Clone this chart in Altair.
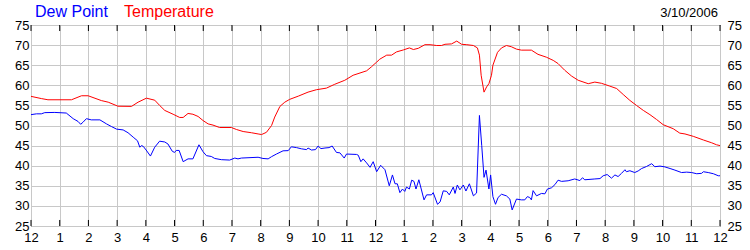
import altair as alt
import pandas as pd

series_names = ["Dew Point", "Temperature"]
date_label = "3/10/2006"

temp_hours = [0.00, 0.36, 0.59, 1.41, 1.76, 1.99, 2.45, 2.69, 3.03, 3.50, 3.73, 4.02, 4.31, 4.48, 4.66,
              4.95, 5.18, 5.30, 5.47, 5.64, 5.82, 5.99, 6.17, 6.34, 6.57, 6.98, 7.16, 7.39, 7.68, 7.91,
              8.03, 8.20, 8.38, 8.49, 8.67, 8.84, 9.01, 9.31, 9.65, 9.94, 10.29, 10.58, 10.93, 11.22,
              11.69, 11.86, 11.95, 12.03, 12.15, 12.39, 12.56, 12.73, 12.97, 13.18, 13.32, 13.49, 13.72,
              13.90, 14.13, 14.30, 14.42, 14.65, 14.83, 15.00, 15.18, 15.41, 15.55, 15.62, 15.68, 15.78,
              15.87, 15.95, 16.04, 16.09, 16.25, 16.39, 16.56, 16.73, 16.91, 17.08, 17.43, 17.66, 17.95,
              18.19, 18.36, 18.59, 18.83, 19.06, 19.41, 19.64, 19.87, 20.16, 20.40, 20.63, 20.86, 21.09,
              21.33, 21.56, 21.79, 22.02, 22.37, 22.60, 22.78, 23.07, 23.42, 23.71, 23.88, 24.00]
temp_values = [57.25, 56.7, 56.4, 56.4, 57.4, 57.4, 56.2, 55.8, 54.8, 54.75, 55.8, 56.8, 56.3, 55.0, 53.75,
               52.8, 52.0, 52.0, 53.0, 52.8, 52.25, 51.25, 50.4, 50.1, 49.5, 49.5, 49.0, 48.5, 48.2, 47.9,
               47.75, 48.3, 50.0, 52.1, 54.75, 55.8, 56.5, 57.3, 58.3, 58.9, 59.3, 60.25, 61.25, 62.5,
               63.6, 64.6, 65.2, 65.7, 66.5, 67.5, 67.5, 68.3, 68.8, 69.3, 68.9, 69.2, 70.1,
               70.1, 69.9, 69.9, 70.2, 70.3, 71.0, 70.2, 70.1, 69.9, 69.3, 67.5, 62.5, 58.3,
               59.6, 60.4, 62.5, 65.0, 68.2, 69.3, 69.9, 69.6, 69.0, 68.75, 68.75, 67.7, 67.0,
               66.2, 65.4, 63.75, 62.3, 61.25, 60.4, 60.8, 60.5, 59.8, 59.2, 57.7, 56.25, 55.0,
               53.75, 52.7, 51.5, 50.2, 49.2, 48.1, 47.9, 47.3, 46.4, 45.7, 45.2, 45.0]

dew_hours = [0.00, 0.19, 0.36, 0.48, 0.83, 1.23, 1.47, 1.64, 1.73, 1.81, 1.93, 2.10, 2.40, 2.63, 2.80,
             2.98, 3.21, 3.38, 3.56, 3.71, 3.79, 3.85, 3.91, 4.01, 4.16, 4.31, 4.48, 4.66, 4.77, 4.92,
             5.00, 5.06, 5.16, 5.30, 5.47, 5.64, 5.85, 5.99, 6.11, 6.28, 6.40, 6.63, 6.92, 7.10, 7.21,
             7.33, 7.91, 8.08, 8.26, 8.38, 8.55, 8.78, 8.96, 9.07, 9.25, 9.42, 9.60, 9.65, 9.77, 9.91,
             10.00, 10.10, 10.24, 10.38, 10.49, 10.64, 10.76, 10.91, 10.99, 11.34, 11.40, 11.49, 11.57,
             11.69, 11.81, 11.92, 12.04, 12.18, 12.33, 12.48, 12.59, 12.68, 12.76, 12.85, 12.94, 13.02,
             13.08, 13.18, 13.26, 13.34, 13.41, 13.51, 13.69, 13.78, 13.95, 14.01, 14.16, 14.25, 14.36,
             14.48, 14.57, 14.71, 14.77, 14.85, 14.94, 15.06, 15.15, 15.27, 15.41, 15.52, 15.62, 15.70,
             15.78, 15.85, 15.95, 16.01, 16.09, 16.18, 16.27, 16.39, 16.56, 16.68, 16.76, 16.91, 17.08,
             17.20, 17.29, 17.37, 17.43, 17.49, 17.61, 17.78, 17.90, 17.99, 18.13, 18.25, 18.36, 18.48,
             18.71, 18.94, 19.12, 19.21, 19.29, 19.64, 19.82, 19.93, 20.07, 20.22, 20.34, 20.45, 20.57,
             20.69, 20.74, 20.86, 21.03, 21.15, 21.27, 21.44, 21.62, 21.73, 21.91, 22.08, 22.26, 22.43,
             22.66, 22.84, 23.01, 23.19, 23.36, 23.42, 23.59, 23.77, 23.94, 24.00]
dew_values = [52.7, 52.9, 52.9, 53.2, 53.25, 53.1, 51.7, 51.0, 50.3, 50.8, 51.7, 51.4, 51.4, 50.4, 49.75,
              49.1, 48.9, 48.2, 47.1, 46.2, 44.6, 45.0, 44.8, 43.9, 42.4, 44.6, 46.1, 45.9, 45.4, 43.6,
              43.3, 43.8, 43.8, 41.0, 41.7, 41.7, 45.2, 43.5, 42.5, 42.3, 41.8, 41.5, 41.4, 41.9, 41.7,
              41.9, 42.1, 41.8, 41.7, 42.25, 42.9, 43.7, 43.75, 44.7, 44.5, 44.2, 44.0, 44.4, 43.9, 44.0,
              44.9, 44.25, 44.4, 44.5, 44.9, 43.3, 43.2, 41.9, 42.9, 42.8, 42.6, 41.0, 41.7,
              40.7, 39.6, 41.0, 38.5, 40.1, 39.0, 35.0, 37.7, 35.5, 35.5, 33.3, 34.2, 33.6,
              34.7, 34.2, 36.4, 36.1, 34.2, 36.5, 31.5, 32.75, 32.75, 33.3, 30.4, 31.0, 33.75,
              33.6, 32.75, 34.7, 33.1, 35.2, 34.0, 35.2, 33.7, 35.5, 32.5, 33.2, 52.5, 45.0,
              37.1, 38.9, 34.2, 37.7, 32.3, 30.4, 32.1, 32.9, 32.5, 31.7, 29.0, 31.7, 31.5,
              31.5, 32.3, 32.1, 31.5, 33.8, 32.5, 33.1, 33.0, 34.2, 34.5, 35.3, 36.4, 36.1,
              36.25, 36.7, 36.3, 37.0, 36.5, 36.7, 36.8, 37.5, 37.8, 36.9, 37.7, 37.3, 38.1,
              39.0, 38.5, 38.75, 38.3, 38.7, 39.3, 39.8, 40.5, 39.75, 39.9, 39.7, 39.3, 38.9,
              38.3, 38.4, 38.3, 38.0, 38.1, 38.5, 38.3, 38.0, 37.5, 37.5]

hour_ticks = list(range(0, 25))
value_ticks = list(range(25, 80, 5))

df = pd.concat([
    pd.DataFrame({"hour": dew_hours, "value": dew_values, "series": series_names[0]}),
    pd.DataFrame({"hour": temp_hours, "value": temp_values, "series": series_names[1]}),
], ignore_index=True)
tick_df = pd.DataFrame({"hour": hour_ticks})

FONT = "Liberation Sans"
BLUE = "#0000ff"
RED = "#ff0000"
GRID = "#c8c8c8"

x_scale = alt.Scale(domain=[0, 24], nice=False, zero=False)
y_scale = alt.Scale(domain=[25, 75], nice=False, zero=False)
label_expr = "datum.value % 12 == 0 ? '12' : '' + (datum.value % 12)"

x_axis = alt.Axis(values=hour_ticks, labelExpr=label_expr, grid=True, gridColor=GRID, gridOpacity=1,
                  ticks=False, domain=False, title=None, labelFlush=False, labelPadding=5,
                  labelFont=FONT, labelFontSize=13, labelColor="#000000")
y_axis_left = alt.Axis(values=value_ticks, grid=True, gridColor=GRID, gridOpacity=1, ticks=False,
                       domain=False, title=None, labelFlush=False, labelPadding=2,
                       labelFont=FONT, labelFontSize=13, labelColor="#000000")
y_axis_right = alt.Axis(orient="right", values=value_ticks, grid=False, ticks=False, domain=False,
                        title=None, labelFlush=False, labelPadding=7,
                        labelFont=FONT, labelFontSize=13, labelColor="#000000")

x_enc = alt.X("hour:Q", scale=x_scale, axis=x_axis)

lines = alt.Chart(df).mark_line(strokeWidth=1).encode(
    x=x_enc,
    y=alt.Y("value:Q", scale=y_scale, axis=y_axis_left),
    color=alt.Color("series:N", scale=alt.Scale(domain=series_names, range=[BLUE, RED]), legend=None),
)

right_axis = alt.Chart(df).mark_line(opacity=0).encode(
    x=x_enc,
    y=alt.Y("value:Q", scale=y_scale, axis=y_axis_right),
    detail="series:N",
)

bottom_ticks = alt.Chart(tick_df).mark_rule(color="black", strokeWidth=1).encode(
    x=x_enc,
    y=alt.Y(datum=25, scale=y_scale, axis=None),
    y2=alt.Y2(datum=26.5),
)
top_ticks = alt.Chart(tick_df).mark_rule(color="black", strokeWidth=1).encode(
    x=x_enc,
    y=alt.Y(datum=75, scale=y_scale, axis=None),
    y2=alt.Y2(datum=73.5),
)

dew_title = alt.Chart(pd.DataFrame({"label": [series_names[0]]})).mark_text(
    align="left", baseline="alphabetic", font=FONT, fontSize=16, color=BLUE
).encode(text="label:N", x=alt.value(4), y=alt.value(-8))
temp_title = alt.Chart(pd.DataFrame({"label": [series_names[1]]})).mark_text(
    align="left", baseline="alphabetic", font=FONT, fontSize=16, color=RED
).encode(text="label:N", x=alt.value(93), y=alt.value(-8))
date_text = alt.Chart(pd.DataFrame({"label": [date_label]})).mark_text(
    align="right", baseline="alphabetic", font=FONT, fontSize=13, color="#000000"
).encode(text="label:N", x=alt.value(687), y=alt.value(-8))

chart = alt.layer(
    lines, right_axis, bottom_ticks, top_ticks, dew_title, temp_title, date_text
).resolve_axis(y="independent").properties(
    width=689, height=201,
    padding={"left": 31, "top": 25, "right": 30, "bottom": 24},
    autosize=alt.AutoSizeParams(type="none"),
    background="white",
).configure_view(stroke="black", strokeWidth=1)

chart.save("out.html", embed_options={"renderer": "svg", "actions": False})
